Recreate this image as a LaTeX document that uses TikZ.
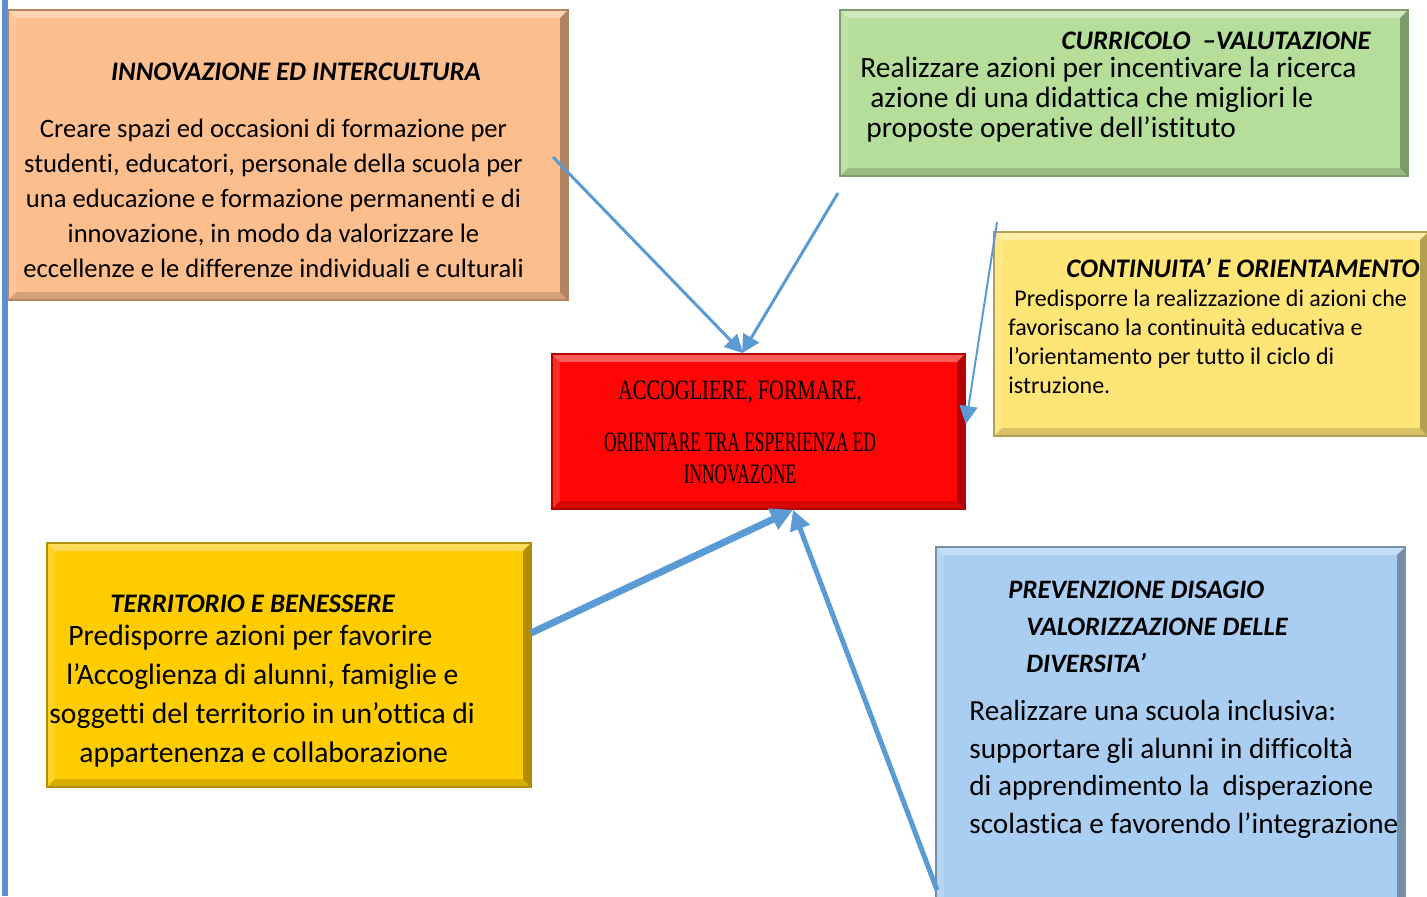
\documentclass[tikz,border=0pt]{standalone}
\usepackage{fontspec}
\setmainfont{Carlito}[Ligatures=NoCommon]
\newfontfamily\corefont[FakeStretch=0.62]{Liberation Serif}
\newfontfamily\corewide[FakeStretch=0.73]{Liberation Serif}
\usepackage{xcolor}
\usetikzlibrary{arrows.meta,calc}
\definecolor{innovC}{HTML}{FDBE8D}
\definecolor{curricC}{HTML}{B4DE99}
\definecolor{continC}{HTML}{FFE476}
\definecolor{coreC}{HTML}{FF0505}
\definecolor{territC}{HTML}{FFCC00}
\definecolor{prevC}{HTML}{A9CEF2}
\definecolor{arBlue}{HTML}{5B9BD5}
\definecolor{barBlue}{HTML}{5B8ED6}

\tikzset{
  bevel/.style={path picture={
    \path (path picture bounding box.north west) coordinate (pnw)
          (path picture bounding box.north east) coordinate (pne)
          (path picture bounding box.south east) coordinate (pse)
          (path picture bounding box.south west) coordinate (psw);
    \fill[white,opacity=.35] (pnw) -- (pne) -- ($(pne)+(-4pt,-4pt)$) -- ($(pnw)+(4pt,-4pt)$) -- cycle;
    \fill[black,opacity=.30] (pne) -- (pse) -- ($(pse)+(-4pt,4pt)$) -- ($(pne)+(-4pt,-4pt)$) -- cycle;
    \fill[black,opacity=.15] (pse) -- (psw) -- ($(psw)+(4pt,4pt)$) -- ($(pse)+(-4pt,4pt)$) -- cycle;
    \fill[white,opacity=.15] (psw) -- (pnw) -- ($(pnw)+(4pt,-4pt)$) -- ($(psw)+(4pt,4pt)$) -- cycle;
  }}
}

\begin{document}
\begin{tikzpicture}[
  x=0.5pt,y=-0.5pt,
  panel/.style={draw=#1!70!black,fill=#1,line width=0.8pt,inner sep=0pt,bevel},
  hd/.style={font=\fontsize{13.4}{15}\selectfont\bfseries\itshape,inner sep=0pt},
  txt/.style={inner sep=0pt},
  ar/.style={-{Triangle[length=9pt,width=9pt]},draw=arBlue,line width=1.5pt}]

\useasboundingbox (0,0) rectangle (1427,896);
\fill[barBlue] (2,0) rectangle (8,896);

% boxes
\node[panel=innovC,minimum width=280pt,minimum height=145pt] (innov) at (288,155) {};
\node[panel=curricC,minimum width=284pt,minimum height=83pt] (curric) at (1124,93) {};
\node[panel=continC,minimum width=217pt,minimum height=102pt] (contin) at (1211,334) {};
\node[panel=coreC,minimum width=206.5pt,minimum height=77.5pt] (core) at (758.5,431.5) {};
\node[panel=territC,minimum width=242pt,minimum height=122pt] (territ) at (289,665) {};
\node[panel=prevC,minimum width=234.5pt,minimum height=179pt] (prev) at (1170.5,726) {};

% arrow ends
\coordinate (innovTail) at (553,157);
\coordinate (curricTail) at (838,193);
\coordinate (continTail) at (997,222);
\coordinate (territTail) at (531,633);
\coordinate (prevTail) at (937,890);

\draw[ar] (innovTail) -- ($(core.north)+(-7.75pt,0)$);
\draw[ar] (curricTail) -- ($(core.north)+(-8.25pt,0)$);
\draw[ar,line width=1pt] (continTail) -- ($(core.east)+(0,3.75pt)$);
\draw[ar,line width=3.5pt,-{Triangle[length=11pt,width=11pt]}] (territTail) -- ($(core.south)+(17.25pt,0)$);
\draw[ar,line width=2.5pt,-{Triangle[length=10pt,width=10pt]}] (prevTail) -- ($(core.south)+(17.25pt,0)$);

% texts
\node[hd] (innovT) at (296,72) {INNOVAZIONE ED INTERCULTURA};
\node[txt,align=center,font=\fontsize{13.3}{17.5}\selectfont] (innovB) at (273.5,198)
  {Creare spazi ed occasioni di formazione per\\studenti, educatori, personale della scuola per\\una educazione e formazione permanenti e di\\innovazione, in modo da valorizzare le\\eccellenze e le differenze individuali e culturali};

\node[hd,anchor=east] (curricT) at (1371,41) {CURRICOLO\ \ –VALUTAZIONE};
\node[txt,align=left,anchor=west,font=\fontsize{14.7}{15}\selectfont] (curricB) at (860,100)
  {Realizzare azioni per incentivare la ricerca\\\hspace{5pt}azione di una didattica che migliori le\\\hspace{3pt}proposte operative dell’istituto};

\node[hd,anchor=east] (continT) at (1420,268) {CONTINUITA’ E ORIENTAMENTO};
\node[txt,align=left,anchor=west,font=\fontsize{12}{14.5}\selectfont] (continB) at (1008,342)
  {\hspace{3pt}Predisporre la realizzazione di azioni che\\favoriscano la continuità educativa e\\l’orientamento per tutto il ciclo di\\istruzione.};

\node[txt,align=center,font=\fontsize{14}{16}\corefont] (coreT) at (740,432)
  {{\corewide ACCOGLIERE, FORMARE,}\\[10pt]ORIENTARE TRA ESPERIENZA ED\\INNOVAZONE};

\node[hd,anchor=west] (territT) at (110,604) {TERRITORIO E BENESSERE};
\node[txt,align=left,anchor=west,font=\fontsize{14.8}{19.5}\selectfont] (territB) at (49,696)
  {\hspace{9.5pt}Predisporre azioni per favorire\\\hspace{8.5pt}l’Accoglienza di alunni, famiglie e\\soggetti del territorio in un’ottica di\\\hspace{15pt}appartenenza e collaborazione};

\node[hd,align=left,anchor=west,font=\fontsize{13.3}{18.5}\selectfont\bfseries\itshape] (prevT) at (1008,627)
  {PREVENZIONE DISAGIO\\\hspace{9pt}VALORIZZAZIONE DELLE\\\hspace{9pt}DIVERSITA’};
\node[txt,align=left,anchor=west,font=\fontsize{14.6}{18.8}\selectfont] (prevB) at (969,769.5)
  {Realizzare una scuola inclusiva:\\supportare gli alunni in difficoltà\\di apprendimento la\ \ disperazione\\scolastica e favorendo l’integrazione};
\end{tikzpicture}
\end{document}
